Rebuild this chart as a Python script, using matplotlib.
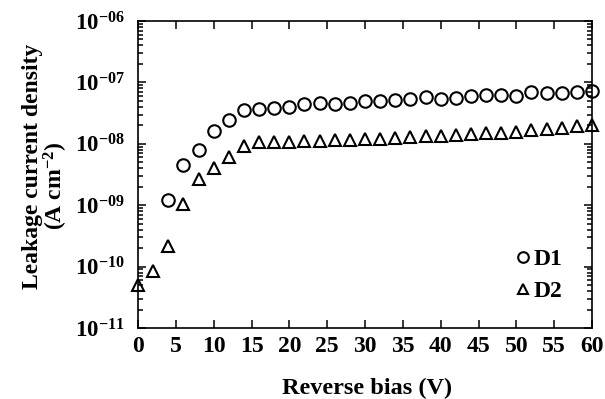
import numpy as np
import matplotlib
matplotlib.use("Agg")
import matplotlib.pyplot as plt
from matplotlib.ticker import LogLocator, FixedLocator, FuncFormatter, NullFormatter

# Reverse bias (V) and leakage current density (A cm^-2)
bias_d1 = [4, 6, 8, 10, 12, 14, 16, 18, 20, 22, 24, 26, 28, 30, 32, 34, 36,
           38, 40, 42, 44, 46, 48, 50, 52, 54, 56, 58, 60]
current_d1 = [1.2e-9, 4.5e-9, 8.0e-9, 1.6e-8, 2.45e-8, 3.5e-8, 3.75e-8, 3.8e-8,
              4.05e-8, 4.45e-8, 4.7e-8, 4.4e-8, 4.6e-8, 4.9e-8, 5.0e-8, 5.2e-8,
              5.45e-8, 5.85e-8, 5.35e-8, 5.55e-8, 6.05e-8, 6.2e-8, 6.2e-8,
              5.9e-8, 6.9e-8, 6.65e-8, 6.7e-8, 6.9e-8, 7.2e-8]

bias_d2 = [0, 2, 4, 6, 8, 10, 12, 14, 16, 18, 20, 22, 24, 26, 28, 30, 32, 34,
           36, 38, 40, 42, 44, 46, 48, 50, 52, 54, 56, 58, 60]
current_d2 = [5.0e-11, 8.5e-11, 2.2e-10, 1.05e-9, 2.65e-9, 4.0e-9, 6.2e-9,
              9.3e-9, 1.05e-8, 1.07e-8, 1.08e-8, 1.1e-8, 1.12e-8, 1.14e-8,
              1.15e-8, 1.18e-8, 1.2e-8, 1.25e-8, 1.27e-8, 1.32e-8, 1.33e-8,
              1.4e-8, 1.43e-8, 1.48e-8, 1.52e-8, 1.57e-8, 1.67e-8, 1.72e-8,
              1.82e-8, 1.93e-8, 2.05e-8]

series_labels = ["D1", "D2"]
x_ticks = list(range(0, 61, 5))
y_exponents = [-11, -10, -9, -8, -7, -6]

plt.rcParams["font.family"] = ["Liberation Serif", "DejaVu Serif"]
plt.rcParams["font.weight"] = "bold"
plt.rcParams["mathtext.fontset"] = "custom"
plt.rcParams["mathtext.rm"] = "Liberation Serif:bold"
plt.rcParams["mathtext.bf"] = "Liberation Serif:bold"
plt.rcParams["mathtext.it"] = "Liberation Serif:bold:italic"

fig = plt.figure(figsize=(6.05, 3.99), dpi=100)
ax = fig.add_axes([138 / 605, 1 - 328 / 399, (592 - 138) / 605, (328 - 21) / 399])

ax.plot(bias_d1, current_d1, linestyle="none", marker="o", markersize=9,
        markerfacecolor="none", markeredgecolor="black", markeredgewidth=1.5,
        label=series_labels[0], clip_on=False, zorder=3)
ax.plot(bias_d2, current_d2, linestyle="none", marker="^", markersize=9,
        markerfacecolor="none", markeredgecolor="black", markeredgewidth=1.5,
        label=series_labels[1], clip_on=False, zorder=3)

ax.set_yscale("log")
ax.set_xlim(0, 60)
ax.set_ylim(10.0 ** y_exponents[0], 10.0 ** y_exponents[-1])

ax.xaxis.set_major_locator(FixedLocator(x_ticks))
ax.yaxis.set_major_locator(FixedLocator([10.0 ** e for e in y_exponents]))
ax.yaxis.set_minor_locator(LogLocator(base=10, subs=np.arange(2, 10)))
ax.yaxis.set_minor_formatter(NullFormatter())


def exp_label(v, pos):
    e = int(round(np.log10(v)))
    return r"$\mathbf{10^{-%02d}}$" % (-e)


ax.yaxis.set_major_formatter(FuncFormatter(exp_label))

ax.tick_params(axis="both", which="both", direction="in", top=True, right=True,
               colors="black", width=1.1)
ax.tick_params(axis="both", which="major", length=6)
ax.tick_params(axis="x", which="major", labelsize=17, pad=6)
ax.tick_params(axis="y", which="major", labelsize=16.5, pad=9.5)
ax.tick_params(axis="y", which="minor", length=3.5)
for lbl in ax.get_xticklabels():
    lbl.set_fontweight("bold")

for s in ax.spines.values():
    s.set_linewidth(1.2)
    s.set_color("black")

ax.set_xlabel("Reverse bias (V)", fontsize=17.5, fontweight="bold")
ax.xaxis.set_label_coords((367 - 138) / (592 - 138), -(388 - 328) / (328 - 21))
ax.xaxis.label.set_va("center")
fig.text(33 / 605, 1 - 166 / 399, "Leakage current density", rotation=90,
         ha="center", va="center", fontsize=17, fontweight="bold")
fig.text(56 / 605, 1 - 186 / 399, r"(A cm$^{\mathbf{-2}}$)", rotation=90,
         ha="center", va="center", fontsize=17, fontweight="bold")

leg = ax.legend(loc="upper left", bbox_to_anchor=(497 / 605, 1 - 237 / 399),
                bbox_transform=fig.transFigure, frameon=False,
                prop={"family": "Liberation Serif", "weight": "bold", "size": 17},
                handletextpad=-0.15, handlelength=1.2, labelspacing=0.45,
                borderpad=0, markerscale=0.85)

fig.savefig("out.png", dpi=100, facecolor="white")
